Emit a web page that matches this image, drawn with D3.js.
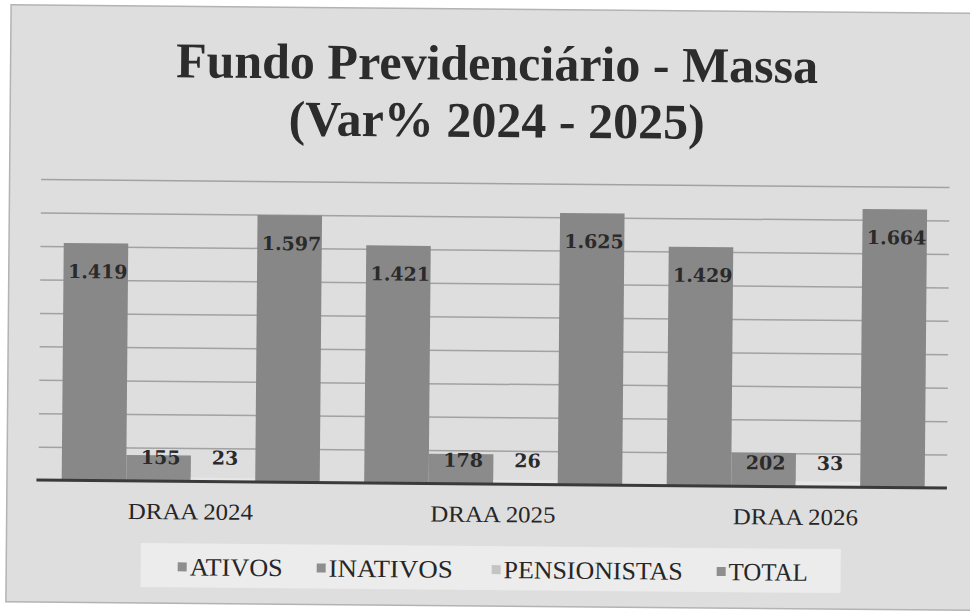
<!DOCTYPE html>
<html>
<head>
<meta charset="utf-8">
<script src="https://cdn.jsdelivr.net/npm/d3@7"></script>
<style>
  html, body { margin: 0; padding: 0; background: #ffffff; }
  svg { display: block; }
</style>
</head>
<body>
<div id="chart"></div>
<script>
// ---------- data ----------
const categories = ["DRAA 2024", "DRAA 2025", "DRAA 2026"];
const seriesNames = ["ATIVOS", "INATIVOS", "PENSIONISTAS", "TOTAL"];
const ativos = [1419, 1421, 1429];
const inativos = [155, 178, 202];
const pensionistas = [23, 26, 33];
const total = [1597, 1625, 1664];
const gridValues = [200, 400, 600, 800, 1000, 1200, 1400, 1600, 1800];
const titleLines = ["Fundo Previdenciário - Massa", "(Var% 2024 - 2025)"];

const seriesValues = { "ATIVOS": ativos, "INATIVOS": inativos, "PENSIONISTAS": pensionistas, "TOTAL": total };
const seriesColors = { "ATIVOS": "#888888", "INATIVOS": "#8b8b8b", "PENSIONISTAS": "#e6e6e6", "TOTAL": "#878787" };
const legendMarkerColors = { "ATIVOS": "#8e8e8e", "INATIVOS": "#8e8e8e", "PENSIONISTAS": "#c4c4c4", "TOTAL": "#8e8e8e" };

const rows = categories.map((c, i) => ({
  category: c,
  values: seriesNames.map(s => ({ series: s, value: seriesValues[s][i] }))
}));

// ---------- layout ----------
const W = 970, H = 611;
const axisY = 484, topY = 183;
const plotLeft = 41, plotRight = 948.5;

const ptBR = d3.formatLocale({ decimal: ",", thousands: ".", grouping: [3], currency: ["R$", ""] });
const fmt = ptBR.format(",d");

const svg = d3.select("#chart").append("svg").attr("width", W).attr("height", H);
svg.append("rect").attr("width", W).attr("height", H).attr("fill", "#ffffff");

const g = svg.append("g").attr("transform", "rotate(0.5,485,305)");

// chart background (scanned page area)
g.append("rect")
  .attr("x", 8.5).attr("y", 9).attr("width", 1000).attr("height", 597)
  .attr("fill", "#dedede").attr("stroke", "#b3b3b3").attr("stroke-width", 1.5);

// title
const titleBaselines = [80, 137];
g.selectAll("text.title").data(titleLines).join("text")
  .attr("class", "title")
  .attr("x", 495).attr("y", (d, i) => titleBaselines[i])
  .attr("text-anchor", "middle")
  .attr("font-family", "'Liberation Serif', 'Times New Roman', serif")
  .attr("font-weight", "bold").attr("font-size", 50)
  .attr("fill", "#2c2c2c")
  .text(d => d);

// scales
const x0 = d3.scaleBand().domain(categories).range([plotLeft, plotRight])
  .paddingInner(0.147).paddingOuter(0.0735);
const x1 = d3.scaleBand().domain(seriesNames).range([0, x0.bandwidth()]).padding(0);
const y = d3.scaleLinear().domain([0, 1800]).range([axisY, topY]);

// gridlines
const grid = g.append("g").attr("transform", `translate(${plotLeft - 1},0)`)
  .call(d3.axisLeft(y).tickValues(gridValues).tickSize(-(plotRight - plotLeft + 1)).tickFormat(""));
grid.select(".domain").remove();
grid.selectAll(".tick line").attr("stroke", "#a2a2a2").attr("stroke-width", 1.5);

// bars
const groups = g.selectAll("g.grp").data(rows).join("g")
  .attr("class", "grp")
  .attr("transform", d => `translate(${x0(d.category)},0)`);

groups.selectAll("rect").data(d => d.values).join("rect")
  .attr("x", d => x1(d.series))
  .attr("y", d => y(d.value))
  .attr("width", x1.bandwidth())
  .attr("height", d => axisY - y(d.value))
  .attr("fill", d => seriesColors[d.series]);

// data labels
groups.selectAll("text.lbl").data(d => d.values).join("text")
  .attr("class", "lbl")
  .attr("x", d => x1(d.series) + x1.bandwidth() / 2 + 2)
  .attr("y", d => Math.min(y(d.value) + 35, axisY - 17))
  .attr("text-anchor", "middle")
  .attr("font-family", "'DejaVu Serif', serif")
  .attr("font-weight", "bold").attr("font-size", 19)
  .attr("fill", "#2a2a2a")
  .text(d => fmt(d.value));

// x axis (baseline + category labels)
const xAxis = g.append("g").attr("transform", `translate(0,${axisY})`)
  .call(d3.axisBottom(x0).tickSize(0).tickSizeOuter(0));
xAxis.select(".domain").attr("stroke", "#3a3a3a").attr("stroke-width", 3)
  .attr("d", `M${plotLeft - 3},0H${plotRight}`);
xAxis.selectAll(".tick text")
  .attr("y", 38).attr("dy", 0)
  .attr("font-family", "'Liberation Serif', 'Times New Roman', serif")
  .attr("font-size", 23).attr("fill", "#262626")
  .attr("textLength", 125).attr("lengthAdjust", "spacingAndGlyphs");

// legend
const legendBox = { x: 143, y: 546, w: 700, h: 44 };
g.append("rect").attr("x", legendBox.x).attr("y", legendBox.y)
  .attr("width", legendBox.w).attr("height", legendBox.h).attr("fill", "#ececec");

const legendTextX = [192, 331, 506, 731];
const legendTextW = [93, 124, 179, 79];
const legendBaseline = 578;
const leg = g.selectAll("g.leg").data(seriesNames).join("g").attr("class", "leg");
leg.append("rect")
  .attr("x", (d, i) => legendTextX[i] - 12)
  .attr("y", legendBaseline - 13)
  .attr("width", 9).attr("height", 9)
  .attr("fill", d => legendMarkerColors[d]);
leg.append("text")
  .attr("x", (d, i) => legendTextX[i])
  .attr("y", legendBaseline)
  .attr("font-family", "'Liberation Serif', 'Times New Roman', serif")
  .attr("font-size", 25).attr("fill", "#262626")
  .attr("textLength", (d, i) => legendTextW[i]).attr("lengthAdjust", "spacingAndGlyphs")
  .text(d => d);
</script>
</body>
</html>
